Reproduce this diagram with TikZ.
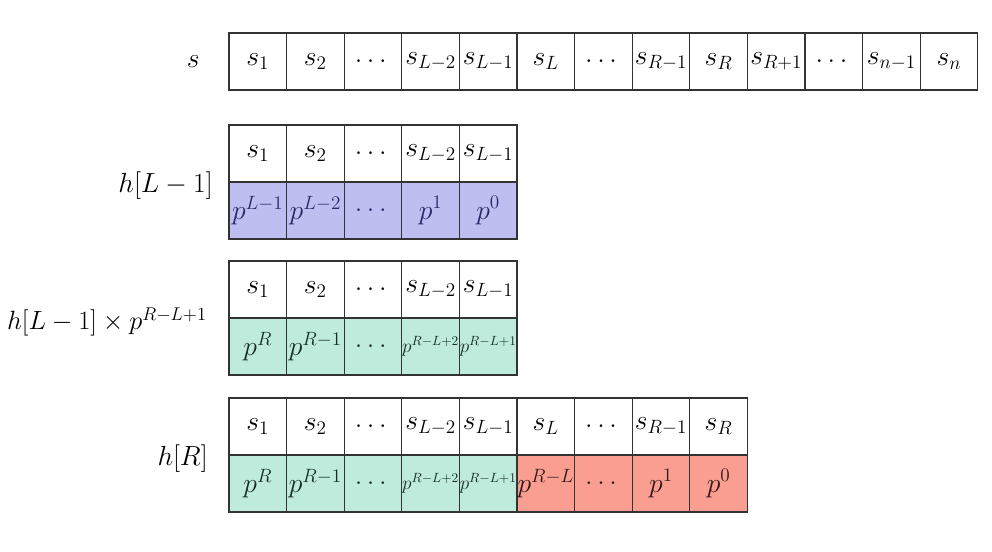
\RequirePackage{fix-cm}
\documentclass[tikz,border=0pt]{standalone}
\usepackage{amsmath}

\definecolor{hblue}{RGB}{190,190,240}
\definecolor{hgreen}{RGB}{190,235,220}
\definecolor{hred}{RGB}{250,158,145}

\begin{document}
\begin{tikzpicture}[x=0.75pt,y=0.75pt,yscale=-1,xscale=1,
  cell/.style={draw=black!80,line width=0.8pt,minimum width=43.2pt,minimum height=42.75pt,inner sep=0pt,font=\huge},
  bluecell/.style={cell,fill=hblue,text={rgb,255:red,40;green,40;blue,105}},
  greencell/.style={cell,fill=hgreen,text={rgb,255:red,25;green,45;blue,38}},
  redcell/.style={cell,fill=hred,text={rgb,255:red,50;green,25;blue,22}},
  tinyp/.style={font=\Large},
  rowlabel/.style={anchor=east,inner sep=0.75pt,font=\huge}]
\useasboundingbox (0,0) rectangle (992,551);

% string s
\node [rowlabel] (lbls) at (201,62) {$s$};
\node [cell] (s1) at (257.8,61.5) {$s_1$};
\node [cell] (s2) at (315.4,61.5) {$s_2$};
\node [cell] (s3) at (373.0,61.5) {$\dots$};
\node [cell] (s4) at (430.6,61.5) {$s_{L-2}$};
\node [cell] (s5) at (488.2,61.5) {$s_{L-1}$};
\node [cell] (s6) at (545.8,61.5) {$s_L$};
\node [cell] (s7) at (603.4,61.5) {$\dots$};
\node [cell] (s8) at (661.0,61.5) {$s_{R-1}$};
\node [cell] (s9) at (718.6,61.5) {$s_R$};
\node [cell] (s10) at (776.2,61.5) {$s_{R+1}$};
\node [cell] (s11) at (833.8,61.5) {$\dots$};
\node [cell] (s12) at (891.4,61.5) {$s_{n-1}$};
\node [cell] (s13) at (949.0,61.5) {$s_n$};

% hash h[L-1]
\node [rowlabel] (lblhl) at (214,186) {$h[L-1]$};
\node [cell] (a1) at (257.8,153.5) {$s_1$};
\node [cell] (a2) at (315.4,153.5) {$s_2$};
\node [cell] (a3) at (373.0,153.5) {$\dots$};
\node [cell] (a4) at (430.6,153.5) {$s_{L-2}$};
\node [cell] (a5) at (488.2,153.5) {$s_{L-1}$};
\node [bluecell] (ap1) at (257.8,210.5) {$p^{L-1}$};
\node [bluecell] (ap2) at (315.4,210.5) {$p^{L-2}$};
\node [bluecell] (ap3) at (373.0,210.5) {$\dots$};
\node [bluecell] (ap4) at (430.6,210.5) {$p^1$};
\node [bluecell] (ap5) at (488.2,210.5) {$p^0$};

% shifted h[L-1]
\node [rowlabel,font=\fontsize{19.8}{24}\selectfont] (lblhm) at (208,322) {$h[L-1]\times p^{R-L+1}$};
\node [cell] (b1) at (257.8,289.5) {$s_1$};
\node [cell] (b2) at (315.4,289.5) {$s_2$};
\node [cell] (b3) at (373.0,289.5) {$\dots$};
\node [cell] (b4) at (430.6,289.5) {$s_{L-2}$};
\node [cell] (b5) at (488.2,289.5) {$s_{L-1}$};
\node [greencell] (bp1) at (257.8,346.5) {$p^R$};
\node [greencell] (bp2) at (315.4,346.5) {$p^{R-1}$};
\node [greencell] (bp3) at (373.0,346.5) {$\dots$};
\node [greencell,tinyp] (bp4) at (430.6,346.5) {$p^{R-L+2}$};
\node [greencell,tinyp] (bp5) at (488.2,346.5) {$p^{R-L+1}$};

% hash h[R]
\node [rowlabel] (lblhr) at (209,459) {$h[R]$};
\node [cell] (c1) at (257.8,426.5) {$s_1$};
\node [cell] (c2) at (315.4,426.5) {$s_2$};
\node [cell] (c3) at (373.0,426.5) {$\dots$};
\node [cell] (c4) at (430.6,426.5) {$s_{L-2}$};
\node [cell] (c5) at (488.2,426.5) {$s_{L-1}$};
\node [cell] (c6) at (545.8,426.5) {$s_L$};
\node [cell] (c7) at (603.4,426.5) {$\dots$};
\node [cell] (c8) at (661.0,426.5) {$s_{R-1}$};
\node [cell] (c9) at (718.6,426.5) {$s_R$};
\node [greencell] (cp1) at (257.8,483.5) {$p^R$};
\node [greencell] (cp2) at (315.4,483.5) {$p^{R-1}$};
\node [greencell] (cp3) at (373.0,483.5) {$\dots$};
\node [greencell,tinyp] (cp4) at (430.6,483.5) {$p^{R-L+2}$};
\node [greencell,tinyp] (cp5) at (488.2,483.5) {$p^{R-L+1}$};
\node [redcell] (cp6) at (545.8,483.5) {$p^{R-L}$};
\node [redcell] (cp7) at (603.4,483.5) {$\dots$};
\node [redcell] (cp8) at (661.0,483.5) {$p^1$};
\node [redcell] (cp9) at (718.6,483.5) {$p^0$};
\end{tikzpicture}
\end{document}
